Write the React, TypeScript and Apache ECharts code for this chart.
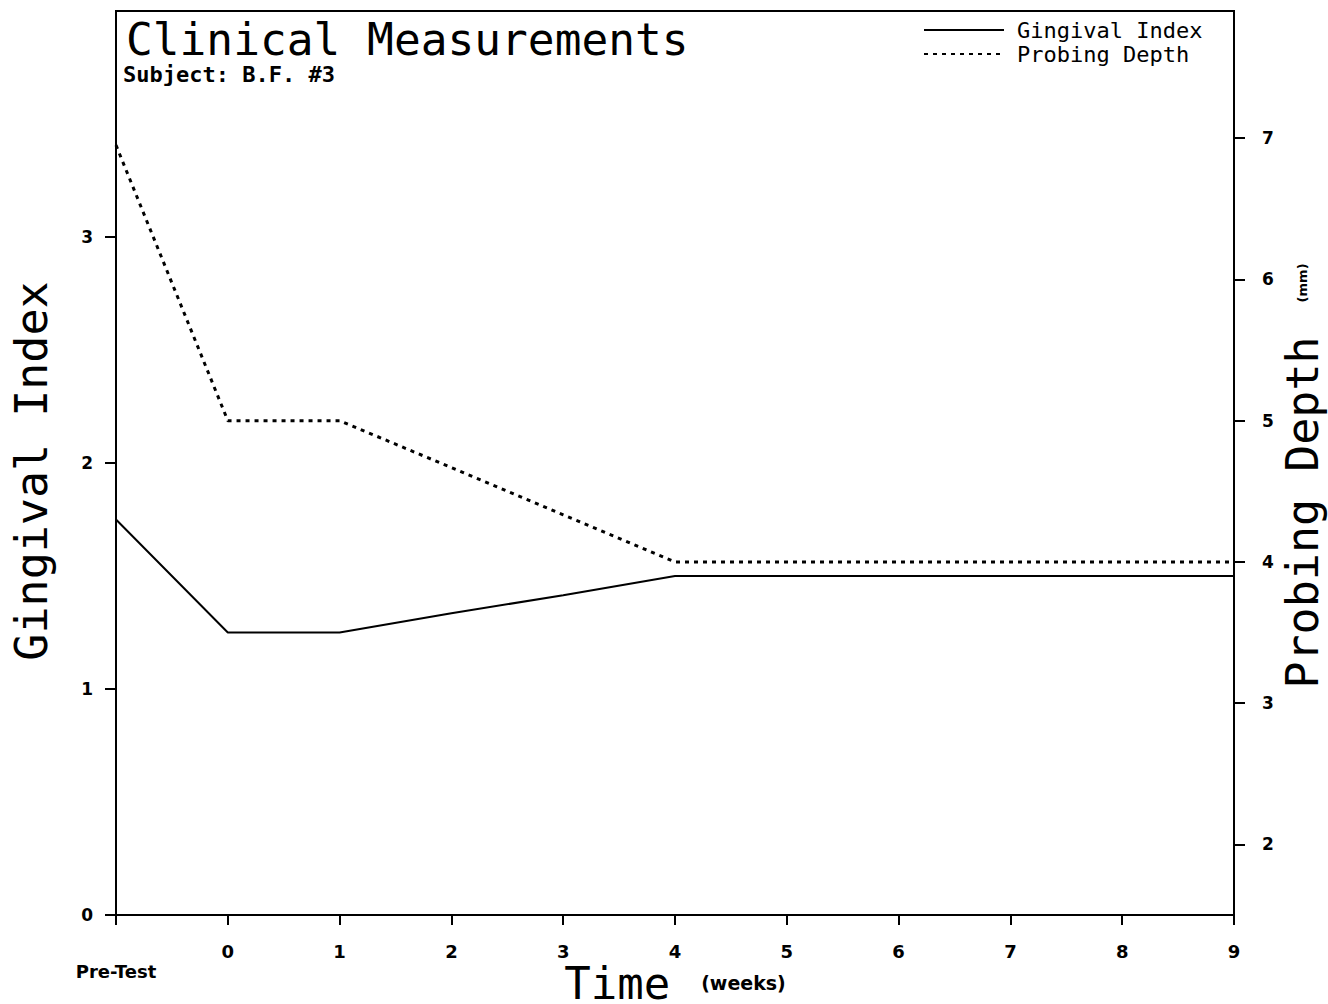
import React, { useEffect, useRef } from "react";
import * as echarts from "echarts";

const weeks = [-1, 0, 1, 2, 3, 4, 5, 6, 7, 8, 9];
const gingivalIndex = [1.75, 1.25, 1.25, 1.335, 1.415, 1.5, 1.5, 1.5, 1.5, 1.5, 1.5];
const probingDepth = [6.95, 5.0, 5.0, 4.667, 4.333, 4.0, 4.0, 4.0, 4.0, 4.0, 4.0];
const leftTicks = [0, 1, 2, 3];
const rightTicks = [2, 3, 4, 5, 6, 7];

const MONO = "'DejaVu Sans Mono', monospace";
const SANS = "'DejaVu Sans', sans-serif";

export default function App() {
  const ref = useRef<HTMLDivElement>(null);
  useEffect(() => {
    if (!ref.current) return;
    const chart = echarts.init(ref.current, null, { renderer: "svg" });
    chart.setOption({
      animation: false,
      backgroundColor: "#fff",
      grid: {
        left: 116,
        right: 94,
        top: 11,
        bottom: 89,
        containLabel: false,
        outerBoundsMode: "none",
        show: true,
        borderColor: "#000",
        borderWidth: 2,
        backgroundColor: "transparent",
      },
      title: [
        {
          text: "Clinical Measurements",
          left: 126,
          top: 17,
          padding: 0,
          textStyle: { fontFamily: MONO, fontSize: 44.5, lineHeight: 44, fontWeight: "normal", color: "#000" },
        },
        {
          text: "Subject: B.F. #3",
          left: 123,
          top: 63,
          padding: 0,
          textStyle: { fontFamily: MONO, fontSize: 22, lineHeight: 22, fontWeight: "bold", color: "#000" },
        },
      ],
      legend: {
        orient: "vertical",
        left: 918,
        top: 13,
        itemWidth: 80,
        itemHeight: 14,
        itemGap: 0,
        itemStyle: { opacity: 0 },
        data: ["Gingival Index", "Probing Depth"],
        textStyle: {
          fontFamily: MONO,
          fontSize: 22,
          color: "#000",
          lineHeight: 16,
          padding: [0, 0, 8, 8],
        },
      },
      xAxis: {
        type: "value",
        min: -1,
        max: 9,
        interval: 1,
        name: "{a|Time}{b|(weeks)}",
        nameLocation: "middle",
        nameGap: 50,
        nameMoveOverlap: false,
        nameTextStyle: {
          rich: {
            a: { fontFamily: MONO, fontSize: 44, color: "#000", lineHeight: 36 },
            b: { fontFamily: SANS, fontSize: 19, fontWeight: "bold", color: "#000", padding: [0, 0, 0, 31] },
          },
        },
        splitLine: { show: false },
        axisLine: { onZero: false, lineStyle: { color: "#000", width: 2 } },
        axisTick: { length: 10, lineStyle: { color: "#000", width: 2 } },
        axisLabel: {
          margin: 27,
          color: "#000",
          fontFamily: SANS,
          fontSize: 18,
          fontWeight: "bold",
          formatter: (v: number) => (v === -1 ? "{p|Pre-Test}" : String(v)),
          rich: {
            p: { fontFamily: SANS, fontSize: 18, fontWeight: "bold", color: "#000", padding: [20, 0, 0, 0] },
          },
        },
      },
      yAxis: [
        {
          type: "value",
          min: 0,
          max: 4,
          position: "left",
          name: "Gingival Index",
          nameLocation: "middle",
          nameGap: 62,
          nameMoveOverlap: false,
          nameTextStyle: { fontFamily: MONO, fontSize: 45, color: "#000", padding: [0, 16, 0, 0] },
          splitLine: { show: false },
          axisLine: { show: true, onZero: false, lineStyle: { color: "#000", width: 2 } },
          axisTick: { show: true, length: 11, customValues: leftTicks, lineStyle: { color: "#000", width: 2 } },
          axisLabel: {
            margin: 23,
            color: "#000",
            fontFamily: SANS,
            fontSize: 17,
            fontWeight: "bold",
            customValues: leftTicks,
          },
        },
        {
          type: "value",
          min: 1.5,
          max: 7.9,
          position: "right",
          name: "{a|Probing Depth}{b|(mm)}",
          nameLocation: "middle",
          nameGap: 47,
          nameRotate: 90,
          nameMoveOverlap: false,
          nameTextStyle: {
            padding: [0, 26, 0, 0],
            rich: {
              a: { fontFamily: MONO, fontSize: 45, color: "#000", lineHeight: 42 },
              b: { fontFamily: SANS, fontSize: 13, fontWeight: "bold", color: "#000", padding: [0, 0, 0, 34] },
            },
          },
          splitLine: { show: false },
          axisLine: { show: true, onZero: false, lineStyle: { color: "#000", width: 2 } },
          axisTick: { show: true, length: 11, customValues: rightTicks, lineStyle: { color: "#000", width: 2 } },
          axisLabel: {
            margin: 28,
            color: "#000",
            fontFamily: SANS,
            fontSize: 17,
            fontWeight: "bold",
            customValues: rightTicks,
          },
        },
      ],
      series: [
        {
          name: "Gingival Index",
          type: "line",
          yAxisIndex: 0,
          symbol: "none",
          data: weeks.map((w, i) => [w, gingivalIndex[i]]),
          lineStyle: { color: "#000", width: 2 },
          itemStyle: { color: "#000" },
        },
        {
          name: "Probing Depth",
          type: "line",
          yAxisIndex: 1,
          symbol: "none",
          data: weeks.map((w, i) => [w, probingDepth[i]]),
          lineStyle: { color: "#000", width: 3, type: [4, 5] },
          itemStyle: { color: "#000" },
        },
      ],
    });
    return () => chart.dispose();
  }, []);
  return (
    <div
      ref={ref}
      style={{ position: "absolute", left: 0, top: 0, width: 1328, height: 1004 }}
    />
  );
}
